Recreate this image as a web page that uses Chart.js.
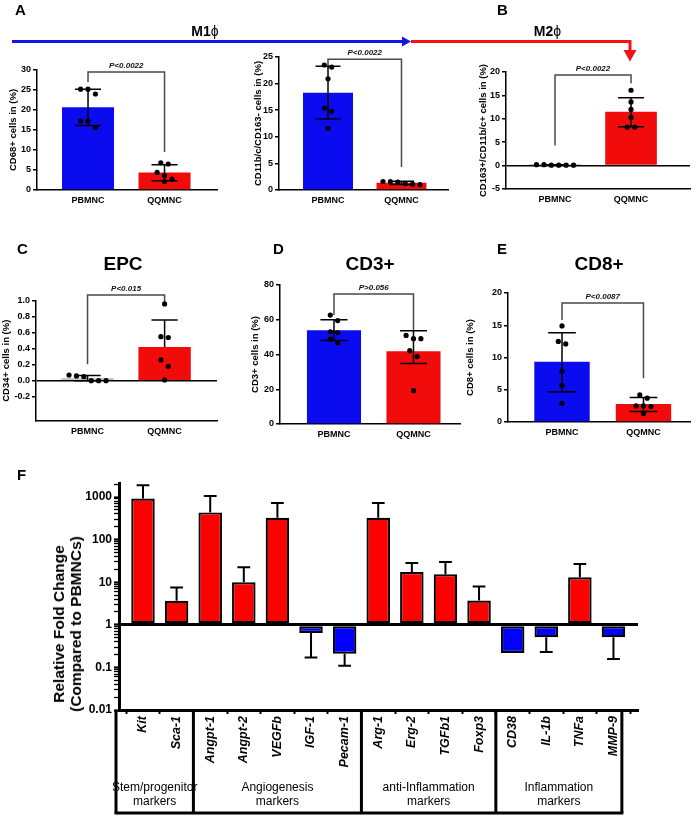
<!DOCTYPE html>
<html><head><meta charset="utf-8">
<script src="https://cdn.jsdelivr.net/npm/chart.js@4.4.1/dist/chart.umd.min.js"></script>
<style>
html,body{margin:0;padding:0;background:#fff;}
#page{position:relative;width:700px;height:817px;overflow:hidden;font-family:"Liberation Sans",Arial,sans-serif;background:#fff;}
.cv{position:absolute;}
.t{position:absolute;white-space:nowrap;color:#000;font-weight:bold;}
</style></head><body><div id="page"></div>
<script>
// ---------------- DATA ----------------
const groupLabels = ['PBMNC', 'QQMNC'];

// A (left): CD68+
const cd68_PBMNC = [25.2, 25.2, 24.0, 17.2, 17.2, 15.6];
const cd68_QQMNC = [6.8, 6.5, 4.4, 3.6, 2.7, 2.1];
const cd68_mean = [20.7, 4.35];
const cd68_errHigh = [4.5, 1.95];
const cd68_errLow = [4.6, 2.05];

// A (right): CD11b/c/CD163-
const cd11_PBMNC = [23.5, 23.1, 20.9, 15.4, 14.8, 11.6];
const cd11_QQMNC = [1.6, 1.6, 1.5, 1.2, 1.1, 1.0];
const cd11_mean = [18.3, 1.35];
const cd11_errHigh = [4.95, 0.3];
const cd11_errLow = [4.95, 0.3];

// B: CD163+/CD11b/c+
const cd163_PBMNC = [0.2, 0.2, 0.1, 0.1, 0.1, 0.1];
const cd163_QQMNC = [16.1, 13.6, 12.0, 10.3, 8.2, 8.2];
const cd163_mean = [0.13, 11.5];
const cd163_errHigh = [0.05, 3.0];
const cd163_errLow = [0.05, 3.2];

// C: EPC CD34+
const cd34_PBMNC = [0.07, 0.06, 0.05, 0.0, 0.0, 0.0];
const cd34_QQMNC = [0.96, 0.55, 0.54, 0.26, 0.18, 0.01];
const cd34_mean = [0.035, 0.42];
const cd34_errHigh = [0.03, 0.34];
const cd34_errLow = [0.035, 0];

// D: CD3+
const cd3_PBMNC = [62.7, 59.5, 53.1, 52.6, 48.9, 46.8];
const cd3_QQMNC = [51.0, 49.1, 49.1, 42.2, 38.8, 19.2];
const cd3_mean = [54.0, 41.8];
const cd3_errHigh = [6.0, 11.8];
const cd3_errLow = [6.0, 7.0];

// E: CD8+
const cd8_PBMNC = [14.9, 12.5, 12.1, 7.9, 5.7, 2.9];
const cd8_QQMNC = [4.2, 3.7, 2.5, 2.5, 2.4, 1.3];
const cd8_mean = [9.35, 2.78];
const cd8_errHigh = [4.5, 1.0];
const cd8_errLow = [4.65, 1.15];

// F: relative fold change
const fGenes = ['Kit','Sca-1','Angpt-1','Angpt-2','VEGFb','IGF-1','Pecam-1','Arg-1','Erg-2','TGFb1','Foxp3','CD38','IL-1b','TNFa','MMP-9'];
const fFold = [920, 3.65, 436, 10, 326, 0.64, 0.21, 326, 17.4, 15.4, 3.7, 0.217, 0.51, 13.1, 0.51];
const fErrEnd = [1900, 7.5, 1050, 22.5, 725, 0.17, 0.11, 725, 28.3, 29.9, 7.9, null, 0.23, 26.8, 0.158];
const fGroupLabels = [['Stem/progenitor','markers'], ['Angiogenesis','markers'], ['anti-Inflammation','markers'], ['Inflammation','markers']];
const fGroupSizes = [2, 5, 4, 4];

// ---------------- SETUP ----------------
Chart.defaults.font.family = '"Liberation Sans", Arial, sans-serif';
Chart.defaults.color = '#000';
Chart.defaults.animation = false;
const page = document.getElementById('page');
const BLUE = '#0b0bf0', RED = '#f20b0b', GRAYBAR = '#c4c4cc';

function makeCanvas(box) {
  const cv = document.createElement('canvas');
  cv.className = 'cv';
  cv.width = box[2]; cv.height = box[3];
  cv.style.left = box[0] + 'px'; cv.style.top = box[1] + 'px';
  cv.style.width = box[2] + 'px'; cv.style.height = box[3] + 'px';
  page.appendChild(cv);
  return cv;
}

function applyJitter(chart, dsIdx, groupsVals) {
  const ys = chart.scales.y, xs = chart.scales.x;
  const unitPx = xs.getPixelForValue(1) - xs.getPixelForValue(0);
  const spacing = 7.4 / unitPx;
  const data = [];
  groupsVals.forEach((vals, g) => {
    const sorted = [...vals].sort((a, b) => b - a);
    const rows = [];
    sorted.forEach(v => {
      const py = ys.getPixelForValue(v);
      const row = rows[rows.length - 1];
      if (row && Math.abs(py - row.py0) < 7) row.vals.push(v);
      else rows.push({ py0: py, vals: [v] });
    });
    rows.forEach(r => {
      const n = r.vals.length;
      r.vals.forEach((v, k) => data.push({ x: g + (k - (n - 1) / 2) * spacing, y: v }));
    });
  });
  chart.data.datasets[dsIdx].data = data;
  chart.update('none');
}

function smallChart(o) {
  const cv = makeCanvas(o.box);
  const errData = [];
  const c = 0.17;
  o.mean.forEach((m, g) => {
    const hi = m + o.errHigh[g], lo = m - o.errLow[g];
    errData.push({x: g, y: o.errLow[g] > 0 ? lo : m}, {x: g, y: hi}, {x: g, y: null});
    errData.push({x: g - c, y: hi}, {x: g + c, y: hi}, {x: g, y: null});
    if (o.errLow[g] > 0) errData.push({x: g - c, y: lo}, {x: g + c, y: lo}, {x: g, y: null});
  });
  const s = o.sig;
  const chart = new Chart(cv, {
    type: 'bar',
    data: { datasets: [
      { type: 'bar', data: o.mean.map((m, g) => ({x: g, y: m})), backgroundColor: o.colors,
        barPercentage: 0.68, categoryPercentage: 1, order: 4 },
      { type: 'line', data: [{x: 0, y: s.left}, {x: 0, y: s.top}, {x: 1, y: s.top}, {x: 1, y: s.right}],
        borderColor: '#4a4a4a', borderWidth: 1.5, pointRadius: 0, clip: false, order: 3 },
      { type: 'line', data: errData, borderColor: '#000', borderWidth: 1.5, pointRadius: 0,
        clip: false, spanGaps: false, order: 2 },
      { type: 'scatter', data: [], pointRadius: 2.6, backgroundColor: '#000', borderWidth: 0,
        clip: false, order: 1 }
    ]},
    options: {
      responsive: false, animation: false, events: [],
      layout: { padding: { top: o.padTop, right: o.padRight, left: 0, bottom: 0 } },
      plugins: { legend: { display: false }, tooltip: { enabled: false } },
      scales: {
        x: {
          type: 'linear', min: o.xMin, max: o.xMax, offset: false,
          afterBuildTicks: sc => { sc.ticks = [{value: 0}, {value: 1}]; },
          afterFit: sc => { sc.height = o.xAxisH; },
          ticks: { callback: v => groupLabels[v] ?? '', font: { size: 9, weight: 'bold' }, color: '#000',
                   padding: 5, maxRotation: 0, minRotation: 0, autoSkip: false },
          grid: { display: false, drawTicks: false },
          border: { color: '#000', width: 1.5 }
        },
        y: {
          type: 'linear', min: o.yMin, max: o.yMax,
          afterBuildTicks: o.yTickValues ? (sc => { sc.ticks = o.yTickValues.map(v => ({value: v})); }) : undefined,
          afterFit: sc => { sc.width = o.yAxisW; },
          ticks: { stepSize: o.step, font: { size: 9, weight: 'bold' }, color: '#000', padding: 2,
                   autoSkip: false, callback: o.yFmt || (v => String(v)) },
          grid: { display: true, drawOnChartArea: !!o.zeroLine,
                  color: ctx => (o.zeroLine && ctx.tick && Math.abs(ctx.tick.value) < 1e-9) ? '#000' : 'rgba(0,0,0,0)',
                  lineWidth: 1.5, tickColor: '#000', tickLength: 4, tickWidth: 1.5 },
          border: { color: '#000', width: 1.5 },
          title: { display: true, text: o.yTitle, font: { size: 9.5, weight: 'bold' }, color: '#000',
                   padding: { top: o.titlePad, bottom: 0 } }
        }
      }
    },
    plugins: [{
      id: 'sigText',
      afterDatasetsDraw(ch) {
        const ctx = ch.ctx;
        const x = ch.scales.x.getPixelForValue(0.5), y = ch.scales.y.getPixelForValue(s.top);
        ctx.save();
        ctx.font = 'italic bold 8px "Liberation Sans", Arial, sans-serif';
        ctx.fillStyle = '#111'; ctx.textAlign = 'center'; ctx.textBaseline = 'bottom';
        ctx.fillText(s.text, x, y - 2);
        ctx.restore();
      }
    }]
  });
  applyJitter(chart, 3, o.points);
  return chart;
}

// ---------------- PANELS A-E ----------------
smallChart({ box: [0, 45, 225, 165], padTop: 25, padRight: 8, xAxisH: 20, yAxisW: 37,
  xMin: -0.667, xMax: 1.686, yMin: 0, yMax: 30, step: 5, yTitle: 'CD68+ cells in (%)', titlePad: 7.3,
  mean: cd68_mean, errHigh: cd68_errHigh, errLow: cd68_errLow, colors: [BLUE, RED],
  points: [cd68_PBMNC, cd68_QQMNC], sig: { text: 'P<0.0022', left: 27, top: 29.5, right: 9.5 } });

smallChart({ box: [240, 40, 215, 170], padTop: 17, padRight: 7, xAxisH: 20, yAxisW: 39,
  xMin: -0.667, xMax: 1.633, yMin: 0, yMax: 25, step: 5, yTitle: 'CD11b/c/CD163- cells in (%)', titlePad: 12.3,
  mean: cd11_mean, errHigh: cd11_errHigh, errLow: cd11_errLow, colors: [BLUE, RED],
  points: [cd11_PBMNC, cd11_QQMNC], sig: { text: 'P<0.0022', left: 22.9, top: 24.6, right: 4.3 } });

smallChart({ box: [460, 50, 240, 160], padTop: 22, padRight: 10, xAxisH: 21, yAxisW: 46,
  xMin: -0.645, xMax: 1.776, yMin: -5, yMax: 20, step: 5, yTitle: 'CD163+/CD11b/c+ cells in (%)', titlePad: 17.3,
  zeroLine: true,
  mean: cd163_mean, errHigh: cd163_errHigh, errLow: cd163_errLow, colors: [BLUE, RED],
  points: [cd163_PBMNC, cd163_QQMNC], sig: { text: 'P<0.0022', left: 4.3, top: 19.35, right: 17.6 } });

smallChart({ box: [0, 285, 225, 155], padTop: 15.7, padRight: 8, xAxisH: 19.3, yAxisW: 36,
  xMin: -0.669, xMax: 1.68, yMin: -0.5, yMax: 1.0, yTitle: 'CD34+ cells in (%)', titlePad: 1,
  yTickValues: [-0.2, 0, 0.2, 0.4, 0.6, 0.8, 1.0], yFmt: v => v.toFixed(1), zeroLine: true,
  mean: cd34_mean, errHigh: cd34_errHigh, errLow: cd34_errLow, colors: [GRAYBAR, RED],
  points: [cd34_PBMNC, cd34_QQMNC], sig: { text: 'P<0.015', left: 0.205, top: 1.07, right: 0.97 } });

smallChart({ box: [240, 270, 230, 175], padTop: 15, padRight: 10, xAxisH: 21, yAxisW: 40,
  xMin: -0.679, xMax: 1.585, yMin: 0, yMax: 80, step: 20, yTitle: 'CD3+ cells in (%)', titlePad: 9.3,
  mean: cd3_mean, errHigh: cd3_errHigh, errLow: cd3_errLow, colors: [BLUE, RED],
  points: [cd3_PBMNC, cd3_QQMNC], sig: { text: 'P>0.056', left: 62.7, top: 74.8, right: 54.1 } });

smallChart({ box: [455, 275, 245, 170], padTop: 18, padRight: 10, xAxisH: 23, yAxisW: 53,
  xMin: -0.663, xMax: 1.571, yMin: 0, yMax: 20, step: 5, yTitle: 'CD8+ cells in (%)', titlePad: 9.3,
  mean: cd8_mean, errHigh: cd8_errHigh, errLow: cd8_errLow, colors: [BLUE, RED],
  points: [cd8_PBMNC, cd8_QQMNC], sig: { text: 'P<0.0087', left: 15.8, top: 18.45, right: 6.8 } });

// ---------------- PANEL F ----------------
(function () {
  const cv = makeCanvas([0, 460, 700, 357]);
  const errF = [];
  const c = 0.19;
  fFold.forEach((v, i) => {
    const e = fErrEnd[i];
    if (e == null) return;
    errF.push({x: i, y: v}, {x: i, y: e}, {x: i, y: null}, {x: i - c, y: e}, {x: i + c, y: e}, {x: i, y: null});
  });
  const isPow10 = v => { const l = Math.log10(v); return Math.abs(l - Math.round(l)) < 1e-6; };
  new Chart(cv, {
    type: 'bar',
    data: { datasets: [
      { type: 'bar', data: fFold.map((v, i) => ({x: i, y: v})), base: 1,
        backgroundColor: fFold.map(v => v >= 1 ? '#ff0000' : '#0000ff'),
        borderColor: '#000', borderWidth: 2.2, borderSkipped: false,
        barPercentage: 0.7, categoryPercentage: 1, order: 2 },
      { type: 'line', data: errF, borderColor: '#000', borderWidth: 2, pointRadius: 0,
        clip: false, spanGaps: false, order: 1 }
    ]},
    options: {
      responsive: false, animation: false, events: [],
      layout: { padding: { top: 23.3, right: 62, left: 0, bottom: 0 } },
      plugins: { legend: { display: false }, tooltip: { enabled: false } },
      scales: {
        x: {
          type: 'linear', min: -0.714, max: 14.73, offset: false,
          afterBuildTicks: sc => { sc.ticks = fGenes.map((g, i) => ({value: i})); },
          afterFit: sc => { sc.height = 107; },
          ticks: { callback: v => fGenes[v] ?? '', minRotation: 90, maxRotation: 90, autoSkip: false,
                   font: { size: 12.5, weight: 'bold', style: 'italic' }, color: '#000', padding: 2 },
          grid: { display: true, drawOnChartArea: false, tickLength: 4, tickColor: '#000', tickWidth: 2 },
          border: { color: '#000', width: 3 }
        },
        y: {
          type: 'logarithmic', min: 0.01, max: 2100,
          afterBuildTicks: sc => {
            const t = [];
            for (let e = -2; e <= 3; e++) for (let k = 1; k <= 9; k++) {
              const v = k * Math.pow(10, e);
              if (v <= 2100) t.push({ value: v, major: k === 1 });
            }
            sc.ticks = t;
          },
          afterFit: sc => { sc.width = 119; },
          ticks: { autoSkip: false, font: { size: 12, weight: 'bold' }, color: '#000', padding: 2,
                   callback: v => isPow10(v) ? String(+Math.pow(10, Math.round(Math.log10(v))).toFixed(Math.max(0, -Math.round(Math.log10(v))))) : '' },
          grid: { display: true, drawOnChartArea: true,
                  color: ctx => (ctx.tick && Math.abs(ctx.tick.value - 1) < 1e-9) ? '#000' : 'rgba(0,0,0,0)',
                  lineWidth: 3, tickColor: '#000', tickLength: 5,
                  tickWidth: ctx => (ctx.tick && isPow10(ctx.tick.value)) ? 2.2 : 1.3 },
          border: { color: '#000', width: 3 },
          title: { display: false }
        }
      }
    },
    plugins: [{
      id: 'groupBox',
      afterDraw(ch) {
        const ctx = ch.ctx, xs = ch.scales.x;
        const top = ch.chartArea.bottom, bottom = top + 103;
        const edges = [ch.chartArea.left - 3];
        let idx = 0;
        fGroupSizes.forEach((n, gi) => {
          idx += n;
          if (gi < fGroupSizes.length - 1) edges.push(xs.getPixelForValue(idx - 0.5));
          else edges.push(xs.getPixelForValue(idx - 1 + 0.25));
        });
        ctx.save();
        ctx.strokeStyle = '#000'; ctx.lineWidth = 3;
        edges.forEach(x => { ctx.beginPath(); ctx.moveTo(x, top); ctx.lineTo(x, bottom); ctx.stroke(); });
        ctx.beginPath(); ctx.moveTo(edges[0] - 1.5, bottom); ctx.lineTo(edges[edges.length - 1] + 1.5, bottom); ctx.stroke();
        ctx.fillStyle = '#000'; ctx.textAlign = 'center'; ctx.textBaseline = 'alphabetic';
        ctx.font = '12px "Liberation Sans", Arial, sans-serif';
        fGroupLabels.forEach((lines, gi) => {
          const cx = (edges[gi] + edges[gi + 1]) / 2;
          lines.forEach((ln, li) => ctx.fillText(ln, cx, top + 81 + li * 14));
        });
        ctx.restore();
      }
    }]
  });
})();

// ---------------- DECORATIONS ----------------
(function () {
  const dc = makeCanvas([0, 0, 700, 817]);
  dc.style.pointerEvents = 'none';
  const g = dc.getContext('2d');
  g.lineWidth = 3;
  g.strokeStyle = '#1414e6'; g.fillStyle = '#1414e6';
  g.beginPath(); g.moveTo(12, 41.5); g.lineTo(404, 41.5); g.stroke();
  g.beginPath(); g.moveTo(402, 36.5); g.lineTo(411, 41.5); g.lineTo(402, 46.5); g.closePath(); g.fill();
  g.strokeStyle = '#ee1414'; g.fillStyle = '#ee1414';
  g.lineJoin = 'miter';
  g.beginPath(); g.moveTo(411, 41.5); g.lineTo(630, 41.5); g.lineTo(630, 51); g.stroke();
  g.beginPath(); g.moveTo(623.5, 50); g.lineTo(636.5, 50); g.lineTo(630, 61.5); g.closePath(); g.fill();
})();

function txt(html, x, base, size, center, extra) {
  const d = document.createElement('div');
  d.className = 't';
  d.innerHTML = html;
  d.style.fontSize = size + 'px';
  d.style.lineHeight = size + 'px';
  d.style.top = (base - 0.8465 * size) + 'px';
  d.style.left = x + 'px';
  if (center) d.style.transform = 'translateX(-50%)';
  if (extra) d.style.cssText += extra;
  page.appendChild(d);
}
// panel letters
txt('A', 15, 15, 15);
txt('B', 497, 15, 15);
txt('C', 17, 254, 15);
txt('D', 273, 254, 15);
txt('E', 497, 254, 15);
txt('F', 17, 480, 15);
// arrow labels
txt('M1<span style="font-weight:normal">ϕ</span>', 205, 36, 14, true);
txt('M2<span style="font-weight:normal">ϕ</span>', 547.5, 36, 14, true);
// panel titles
txt('EPC', 123, 270, 19, true);
txt('CD3+', 370, 270, 19, true);
txt('CD8+', 599, 270, 19, true);
// F y-axis title
(function () {
  const d = document.createElement('div');
  d.className = 't';
  d.style.cssText += 'left:66.5px;top:623.5px;transform:translate(-50%,-50%) rotate(-90deg);text-align:center;font-size:15.5px;line-height:17px;';
  d.innerHTML = 'Relative Fold Change<br>(Compared to PBMNCs)';
  page.appendChild(d);
})();
</script>
</body></html>
